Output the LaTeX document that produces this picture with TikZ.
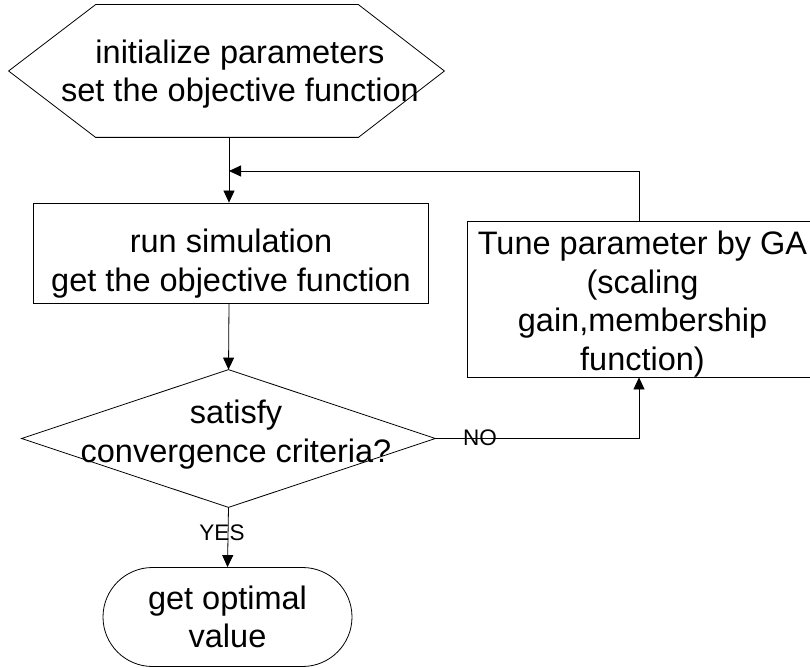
\documentclass[tikz,border=0pt]{standalone}
\usepackage{fontspec}
\setmainfont{Liberation Sans}
\usetikzlibrary{arrows.meta}
\begin{document}
\begin{tikzpicture}[x=1pt,y=-1pt,line width=0.8pt,
  txt/.style={font=\fontsize{32.5}{38.5}\selectfont,align=center,inner sep=0pt},
  lbl/.style={font=\fontsize{22.5}{26}\selectfont,inner sep=0pt},
  frame/.style={inner sep=0pt},
  boxed/.style={draw,inner sep=0pt},
  flow/.style={draw,-{Triangle[length=12pt,width=11pt]}}]
\useasboundingbox (0,0) rectangle (810,668);

% start block (hexagon)
\node[frame,minimum width=435pt,minimum height=132pt] (init) at (226.5,71) {};
\draw (init.west) -- ([xshift=87pt]init.north west) -- ([xshift=-86pt]init.north east)
  -- (init.east) -- ([xshift=-86pt]init.south east) -- ([xshift=87pt]init.south west) -- cycle;
\node[txt] (inittext) at (240,74) {initialize parameters\\set the objective function};

% simulation step
\node[boxed,minimum width=395pt,minimum height=100pt] (run) at (230.5,253) {};
\node[txt] (runtext) at (231,263.5) {run simulation\\get the objective function};

% GA tuning step
\node[boxed,minimum width=344pt,minimum height=156pt] (tune) at (639,299) {};
\node[txt] (tunetext) at (642.5,304) {Tune parameter by GA\\(scaling\\gain,membership\\function)};

% decision
\node[frame,minimum width=413pt,minimum height=137pt] (dec) at (228.5,438.5) {};
\draw (dec.north) -- (dec.east) -- (dec.south) -- (dec.west) -- cycle;
\node[txt] (dectext) at (236,434.5) {satisfy\\convergence criteria?};

% terminal
\node[boxed,txt,rounded corners=49.5pt,minimum width=249pt,minimum height=99pt] (stop) at (227.5,617)
  {get optimal\\value};

% connectors
\coordinate (spine) at (229,0);
\coordinate (join) at (229,171);
\draw[flow] (init.south -| spine) -- (run.north -| spine);
\draw[flow] (tune.north) |- (join);
\draw[flow] (run.south -| spine) -- (dec.north);
\draw[flow] (dec.east) -| (tune.south);
\draw[flow] (dec.south) -- (stop.north);

% branch labels
\node[lbl] (nolbl) at (480,438) {NO};
\node[lbl] (yeslbl) at (222,533) {YES};
\end{tikzpicture}
\end{document}
